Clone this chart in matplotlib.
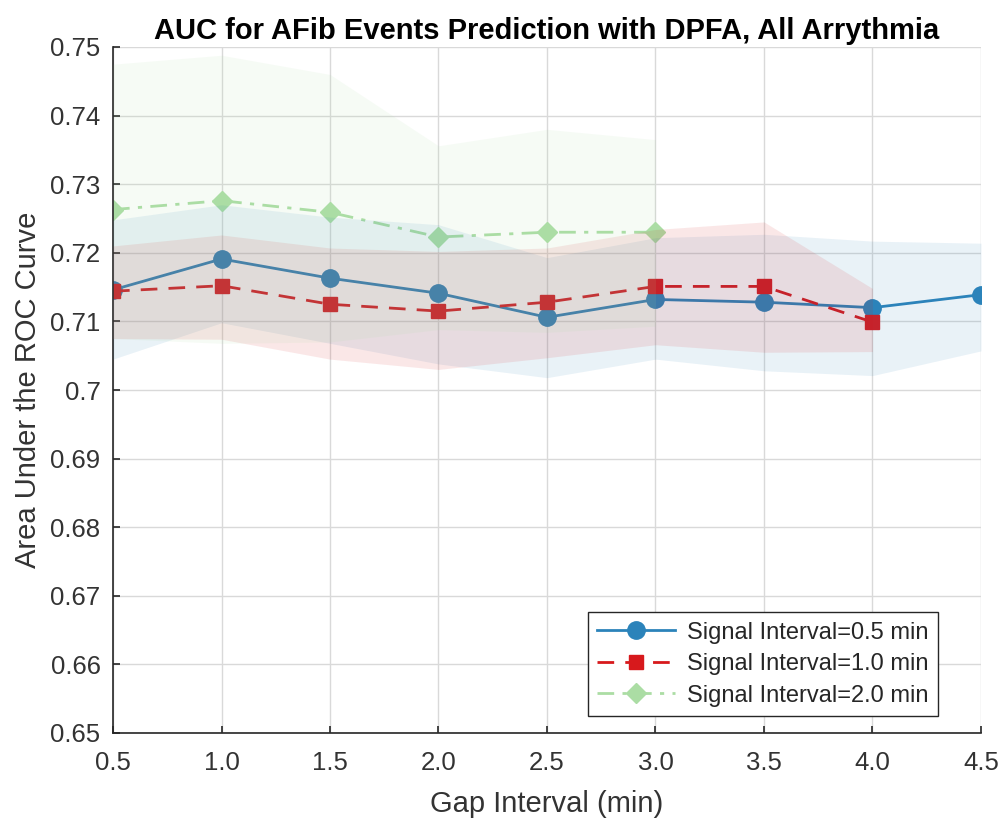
import matplotlib
matplotlib.use("Agg")
import matplotlib.pyplot as plt

plt.rcParams['font.family'] = ['Liberation Sans', 'DejaVu Sans']

# Data
gap_05 = [0.5, 1.0, 1.5, 2.0, 2.5, 3.0, 3.5, 4.0, 4.5]
auc_05 = [0.7146, 0.7191, 0.7163, 0.7141, 0.7106, 0.7132, 0.7128, 0.7120, 0.7139]
up_05 = [0.7248, 0.7270, 0.7252, 0.7241, 0.7193, 0.7222, 0.7227, 0.7217, 0.7214]
lo_05 = [0.7045, 0.7098, 0.7068, 0.7038, 0.7018, 0.7045, 0.7028, 0.7021, 0.7057]

gap_10 = [0.5, 1.0, 1.5, 2.0, 2.5, 3.0, 3.5, 4.0]
auc_10 = [0.7144, 0.7152, 0.7125, 0.7115, 0.7128, 0.7151, 0.7151, 0.7099]
up_10 = [0.7210, 0.7226, 0.7207, 0.7202, 0.7207, 0.7234, 0.7245, 0.7148]
lo_10 = [0.7075, 0.7074, 0.7045, 0.7030, 0.7047, 0.7066, 0.7055, 0.7056]

gap_20 = [0.5, 1.0, 1.5, 2.0, 2.5, 3.0]
auc_20 = [0.7263, 0.7276, 0.7259, 0.7223, 0.7230, 0.7230]
up_20 = [0.7475, 0.7488, 0.7460, 0.7356, 0.7380, 0.7365]
lo_20 = [0.7075, 0.7068, 0.7070, 0.7088, 0.7084, 0.7093]

labels = ['Signal Interval=0.5 min', 'Signal Interval=1.0 min', 'Signal Interval=2.0 min']
colors = ['#2b83ba', '#d7191c', '#abdda4']
xticks = [0.5, 1.0, 1.5, 2.0, 2.5, 3.0, 3.5, 4.0, 4.5]
yticks = [0.65, 0.66, 0.67, 0.68, 0.69, 0.70, 0.71, 0.72, 0.73, 0.74, 0.75]
ytick_labels = ['0.65', '0.66', '0.67', '0.68', '0.69', '0.7', '0.71', '0.72', '0.73', '0.74', '0.75']

fig = plt.figure(figsize=(10.07, 8.23), dpi=100)
ax = fig.add_axes([113/1007, 1-733/823, (981-113)/1007, (733-47)/823])

l1, = ax.plot(gap_05, auc_05, '-', color=colors[0], lw=2.0, marker='o', ms=12.5, zorder=2)
l2, = ax.plot(gap_10, auc_10, '--', color=colors[1], lw=2.0, marker='s', ms=9.5, dashes=(6, 4), zorder=2)
l3, = ax.plot(gap_20, auc_20, '-.', color=colors[2], lw=2.0, marker='D', ms=10, dashes=(6, 3, 1.5, 3), zorder=2)

ax.fill_between(gap_05, lo_05, up_05, color=colors[0], alpha=0.1, lw=0, zorder=3)
ax.fill_between(gap_10, lo_10, up_10, color=colors[1], alpha=0.1, lw=0, zorder=3)
ax.fill_between(gap_20, lo_20, up_20, color=colors[2], alpha=0.1, lw=0, zorder=3)

ax.set_xlim(0.5, 4.5)
ax.set_ylim(0.65, 0.75)
ax.set_xticks(xticks)
ax.set_xticklabels([f'{v:.1f}' for v in xticks])
ax.set_yticks(yticks)
ax.set_yticklabels(ytick_labels)
ax.grid(True, color='#d9d9d9', lw=1, zorder=0)
ax.set_axisbelow(True)
for s in ['top', 'right']:
    ax.spines[s].set_visible(False)
for s in ['left', 'bottom']:
    ax.spines[s].set_color('#262626')
    ax.spines[s].set_linewidth(1.2)
ax.tick_params(direction='in', length=5, width=1.2, colors='#262626', labelsize=18.5, labelcolor='#333333')
ax.tick_params(axis='x', pad=13)
ax.tick_params(axis='y', pad=9)

ax.set_title('AUC for AFib Events Prediction with DPFA, All Arrythmia', fontsize=21, fontweight='bold', pad=6)
ax.set_xlabel('Gap Interval (min)', fontsize=21, color='#333333', labelpad=11)
ax.set_ylabel('Area Under the ROC Curve', fontsize=21, color='#333333', labelpad=6)

leg = ax.legend([l1, l2, l3], labels, loc='lower right', fontsize=17, fancybox=False,
                edgecolor='#262626', framealpha=1, borderaxespad=0,
                bbox_to_anchor=((938-113)/868, (733-716)/686), handlelength=3.3,
                labelspacing=0.4, borderpad=0.4, handletextpad=0.5)
leg.get_frame().set_linewidth(1.0)
for t in leg.get_texts():
    t.set_color('#262626')
leg.set_zorder(5)

fig.savefig('out.png', dpi=100)
